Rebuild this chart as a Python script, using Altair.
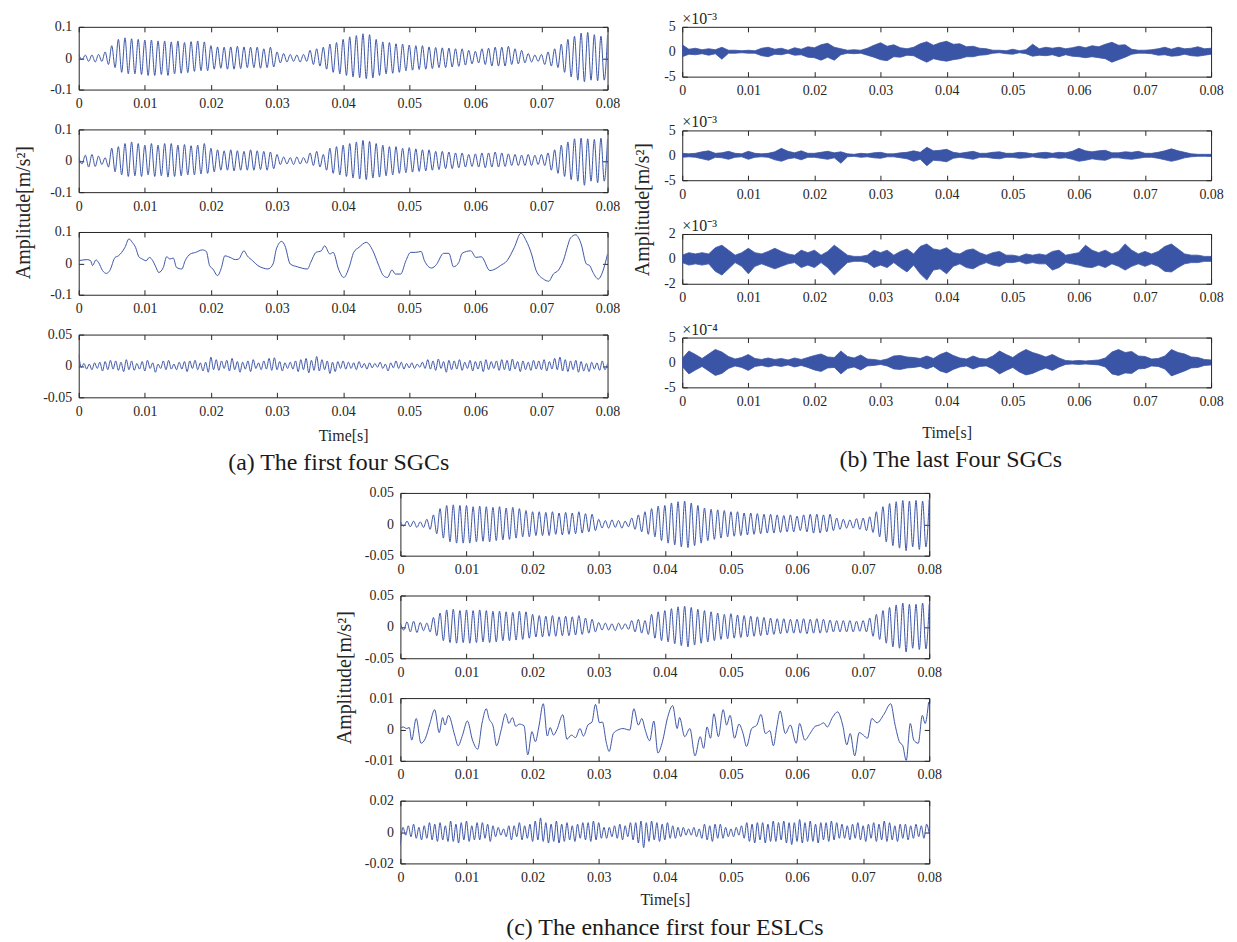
import altair as alt
import numpy as np
import pandas as pd

# ------------------------------------------------------------------ data
TIME_TICKS = [0, 0.01, 0.02, 0.03, 0.04, 0.05, 0.06, 0.07, 0.08]

# (a) first four SGCs  -- alternating crest / trough values, one cycle per ms
a1_ext = [
    0.012, -0.005, 0.010, -0.010, 0.010, -0.012, 0.012, -0.010, 0.020, -0.020,
    0.040, -0.030, 0.060, -0.045, 0.065, -0.050, 0.062, -0.050, 0.060, -0.052,
    0.058, -0.055, 0.058, -0.055, 0.055, -0.052, 0.055, -0.055, 0.052, -0.050,
    0.055, -0.048, 0.050, -0.046, 0.053, -0.042, 0.055, -0.040, 0.052, -0.040,
    0.040, -0.035, 0.036, -0.032, 0.035, -0.035, 0.036, -0.035, 0.038, -0.033,
    0.036, -0.030, 0.035, -0.030, 0.035, -0.032, 0.030, -0.030, 0.035, -0.028,
    0.020, -0.015, 0.015, -0.012, 0.012, -0.010, 0.010, -0.012, 0.012, -0.010,
    0.025, -0.020, 0.030, -0.025, 0.035, -0.035, 0.045, -0.045, 0.050, -0.050,
    0.060, -0.055, 0.068, -0.060, 0.072, -0.062, 0.078, -0.065, 0.075, -0.063,
    0.060, -0.055, 0.052, -0.050, 0.050, -0.048, 0.046, -0.045, 0.045, -0.040,
    0.042, -0.038, 0.040, -0.036, 0.040, -0.035, 0.036, -0.033, 0.034, -0.030,
    0.033, -0.030, 0.032, -0.028, 0.030, -0.026, 0.030, -0.022, 0.025, -0.018,
    0.022, -0.015, 0.030, -0.020, 0.032, -0.025, 0.035, -0.025, 0.035, -0.025,
    0.038, -0.020, 0.030, -0.018, 0.025, -0.015, 0.015, -0.012, 0.010, -0.010,
    0.012, -0.020, 0.020, -0.025, 0.030, -0.030, 0.045, -0.045, 0.060, -0.060,
    0.070, -0.070, 0.080, -0.075, 0.082, -0.070, 0.075, -0.072, 0.070, -0.070,
    0.075,
]
a2_ext = [
    0.010, -0.010, 0.018, -0.020, 0.020, -0.018, 0.015, -0.012, 0.010, -0.020,
    0.040, -0.035, 0.045, -0.045, 0.055, -0.050, 0.060, -0.048, 0.055, -0.050,
    0.050, -0.045, 0.055, -0.050, 0.050, -0.048, 0.055, -0.052, 0.055, -0.050,
    0.050, -0.048, 0.052, -0.045, 0.048, -0.045, 0.050, -0.042, 0.055, -0.040,
    0.040, -0.035, 0.035, -0.030, 0.032, -0.030, 0.035, -0.032, 0.032, -0.030,
    0.030, -0.030, 0.035, -0.030, 0.032, -0.028, 0.030, -0.030, 0.028, -0.025,
    0.020, -0.012, 0.012, -0.010, 0.010, -0.012, 0.012, -0.010, 0.010, -0.008,
    0.025, -0.015, 0.030, -0.020, 0.020, -0.030, 0.040, -0.040, 0.045, -0.045,
    0.050, -0.050, 0.055, -0.055, 0.060, -0.058, 0.065, -0.060, 0.062, -0.055,
    0.055, -0.052, 0.050, -0.048, 0.045, -0.045, 0.045, -0.040, 0.040, -0.038,
    0.042, -0.036, 0.038, -0.034, 0.035, -0.032, 0.035, -0.030, 0.030, -0.028,
    0.030, -0.025, 0.028, -0.025, 0.025, -0.022, 0.025, -0.020, 0.020, -0.018,
    0.022, -0.020, 0.025, -0.022, 0.025, -0.020, 0.028, -0.020, 0.025, -0.018,
    0.022, -0.015, 0.020, -0.015, 0.018, -0.015, 0.020, -0.015, 0.018, -0.012,
    0.020, -0.015, 0.025, -0.030, 0.035, -0.040, 0.050, -0.050, 0.060, -0.060,
    0.070, -0.065, 0.072, -0.078, 0.070, -0.065, 0.068, -0.070, 0.072, -0.065,
    0.070,
]
# (time in ms, value)
a3_pts = [
    (0, 0.0085), (1.3, 0.012), (1.8, 0.0085), (2.1, -0.007), (2.6, 0.011), (3.0, 0.003),
    (3.6, -0.023), (4.2, -0.032), (4.7, -0.023), (5.5, 0.019), (6.0, 0.024), (6.5, 0.035),
    (7.0, 0.051), (7.6, 0.078), (8.1, 0.067), (8.6, 0.051), (9.1, 0.021), (9.6, 0.014),
    (10.2, 0.0085), (10.7, 0.019), (11.2, 0.0085), (11.7, -0.013), (12.1, -0.029), (12.8, -0.013),
    (13.3, 0.021), (13.8, 0.014), (14.3, 0.017), (14.8, -0.013), (15.6, -0.018), (16.1, 0.0085),
    (16.9, 0.030), (17.7, 0.035), (18.7, 0.043), (19.3, 0.038), (19.8, -0.007), (20.3, -0.018),
    (21.0, -0.039), (21.6, -0.013), (22.1, 0.024), (22.9, 0.019), (23.7, 0.012), (24.2, 0.014),
    (25.0, 0.040), (25.5, 0.024), (26.3, 0.0085), (27.1, -0.007), (27.9, -0.015), (28.6, -0.018),
    (29.4, -0.002), (29.9, 0.046), (30.7, 0.070), (31.2, 0.056), (32.0, -0.002), (33.1, -0.011),
    (34.6, -0.018), (35.1, 0.003), (35.9, 0.035), (36.7, 0.040), (37.2, 0.056), (38.0, 0.030),
    (38.5, 0.035), (39.3, -0.018), (40.1, -0.045), (40.9, -0.013), (41.6, 0.035), (42.4, 0.051),
    (43.5, 0.067), (44.5, 0.040), (45.3, -0.002), (46.1, -0.039), (46.7, -0.045), (47.4, -0.021),
    (47.9, -0.034), (48.7, -0.034), (49.5, 0.0085), (50.2, 0.035), (51.0, 0.035), (51.8, 0.038),
    (52.3, 0.0085), (53.4, -0.015), (54.1, -0.004), (55.2, 0.032), (56.0, 0.032), (56.7, -0.011),
    (57.5, 0.003), (58.0, 0.032), (59.3, 0.040), (60.1, 0.019), (60.9, 0.021), (62.2, -0.023),
    (63.0, -0.018), (63.8, -0.007), (64.8, 0.0085), (65.9, 0.051), (66.9, 0.096), (67.7, 0.072),
    (68.5, 0.030), (69.2, -0.023), (70.3, -0.050), (71.1, -0.057), (71.8, -0.034), (72.6, -0.021),
    (73.4, 0.014), (73.9, 0.051), (74.4, 0.081), (75.2, 0.091), (76.0, 0.062), (76.8, -0.002),
    (77.3, -0.007), (77.8, -0.029), (78.6, -0.050), (79.4, -0.018), (80.0, 0.030),
]
a4_ext = [
    0.018, -0.002, 0.004, -0.005, 0.003, -0.006, 0.005, -0.004, 0.006, -0.008,
    0.007, -0.006, 0.009, -0.005, 0.008, -0.007, 0.006, -0.009, 0.010, -0.006,
    0.008, -0.007, 0.004, -0.005, 0.007, -0.008, 0.009, -0.004, 0.005, -0.010,
    0.003, -0.004, 0.008, -0.006, 0.009, -0.005, 0.003, -0.006, 0.006, -0.005,
    0.007, -0.009, 0.008, -0.004, 0.009, -0.006, 0.005, -0.008, 0.006, -0.010,
    0.014, -0.006, 0.010, -0.007, 0.008, -0.004, 0.009, -0.008, 0.012, -0.006,
    0.007, -0.010, 0.006, -0.005, 0.008, -0.009, 0.010, -0.004, 0.005, -0.006,
    0.008, -0.005, 0.012, -0.007, 0.013, -0.006, 0.007, -0.008, 0.005, -0.004,
    0.006, -0.005, 0.008, -0.009, 0.010, -0.006, 0.012, -0.011, 0.009, -0.007,
    0.015, -0.008, 0.010, -0.006, 0.008, -0.012, 0.006, -0.009, 0.007, -0.004,
    0.008, -0.005, 0.006, -0.004, 0.005, -0.006, 0.007, -0.003, 0.004, -0.005,
    0.005, -0.003, 0.004, -0.002, 0.006, -0.004, 0.003, -0.008, 0.005, -0.003,
    0.008, -0.004, 0.006, -0.005, 0.004, -0.003, 0.005, -0.004, 0.003, -0.002,
    0.006, -0.004, 0.010, -0.005, 0.008, -0.007, 0.011, -0.004, 0.007, -0.010,
    0.009, -0.006, 0.008, -0.005, 0.010, -0.007, 0.006, -0.004, 0.009, -0.008,
    0.007, -0.005, 0.008, -0.009, 0.010, -0.006, 0.007, -0.004, 0.008, -0.007,
    0.010, -0.006, 0.009, -0.008, 0.011, -0.005, 0.007, -0.009, 0.008, -0.006,
    0.006, -0.007, 0.009, -0.005, 0.008, -0.006, 0.010, -0.008, 0.007, -0.005,
    0.012, -0.006, 0.014, -0.008, 0.010, -0.009, 0.008, -0.006, 0.009, -0.010,
    0.007, -0.008, 0.004, -0.009, 0.006, -0.005, 0.005, -0.007, 0.008, -0.006,
    0.004,
]

# (b) last four SGCs -- upper / lower edge of the dense trace, one value per ms
b1_hi = [1.4, 0.5, 0.7, 0.4, 0.6, 0.4, 0.9, 0.3, 0.3, 0.2,
         0.3, 0.2, 0.7, 0.9, 0.5, 0.7, 0.3, 0.8, 0.5, 1.0,
         0.8, 1.4, 1.7, 0.9, 0.6, 0.3, 0.4, 0.3, 0.7, 1.3,
         1.8, 1.1, 1.4, 0.8, 0.6, 0.9, 1.6, 2.0, 1.3, 1.8,
         2.1, 1.5, 1.6, 1.0, 1.1, 0.7, 0.6, 0.3, 0.3, 0.2,
         0.5, 0.2, 0.4, 1.5, 0.6, 0.9, 0.7, 0.9, 0.6, 0.8,
         1.1, 0.8, 1.2, 1.0, 1.5, 1.9, 1.3, 1.4, 0.5, 0.3,
         0.3, 0.4, 0.6, 0.9, 0.5, 0.9, 0.6, 0.7, 1.0, 0.6,
         0.7]
b1_lo = [-1.0, -0.5, -0.6, -0.4, -0.7, -0.4, -1.5, -0.3, -0.3, -0.2,
         -0.3, -0.3, -0.8, -1.0, -0.5, -0.6, -0.3, -0.7, -0.6, -1.1,
         -1.2, -1.7, -1.1, -1.7, -0.6, -0.3, -0.4, -0.3, -0.7, -1.1,
         -1.6, -1.8, -1.0, -1.1, -0.7, -0.8, -1.5, -2.1, -1.4, -1.7,
         -1.9, -1.6, -1.4, -1.0, -1.0, -0.7, -0.6, -0.3, -0.2, -0.4,
         -0.5, -0.2, -0.4, -0.9, -0.7, -0.8, -0.6, -1.0, -0.6, -0.9,
         -1.0, -1.2, -1.0, -1.2, -1.4, -2.1, -1.6, -1.1, -0.5, -0.3,
         -0.3, -0.4, -0.7, -0.6, -0.9, -0.8, -0.5, -0.8, -0.9, -0.7,
         -0.5]
b2_hi = [0.4, 0.3, 0.4, 0.7, 0.9, 0.4, 0.5, 0.8, 0.4, 0.3,
         0.8, 0.4, 0.3, 0.4, 0.7, 1.4, 0.8, 0.5, 0.9, 0.4,
         0.4, 0.6, 0.8, 0.5, 0.7, 0.3, 0.2, 0.4, 0.3, 0.5,
         0.6, 0.3, 0.3, 0.5, 0.6, 0.9, 0.6, 1.6, 0.9, 1.0,
         1.2, 0.6, 0.4, 0.6, 0.8, 0.4, 0.4, 0.6, 0.7, 0.4,
         0.4, 0.6, 0.5, 0.3, 0.5, 0.6, 0.4, 0.6, 0.5, 0.8,
         1.4, 0.9, 0.7, 0.9, 1.0, 0.5, 0.5, 0.7, 0.6, 0.8,
         0.4, 0.4, 0.6, 0.9, 1.3, 0.9, 0.6, 0.3, 0.2, 0.2,
         0.2]
b2_lo = [-0.4, -0.3, -0.4, -0.7, -1.0, -0.4, -0.5, -0.8, -0.4, -0.3,
         -0.8, -0.4, -0.3, -0.4, -0.9, -1.2, -0.7, -0.5, -0.9, -0.4,
         -0.4, -0.6, -0.8, -0.5, -1.6, -0.3, -0.2, -0.4, -0.3, -0.5,
         -0.6, -0.3, -0.3, -0.5, -0.7, -1.2, -0.8, -2.1, -1.0, -1.1,
         -1.3, -0.6, -0.4, -0.6, -0.8, -0.4, -0.4, -0.6, -0.7, -0.4,
         -0.4, -0.6, -0.5, -0.3, -0.5, -0.6, -0.4, -0.6, -0.5, -0.8,
         -1.2, -1.0, -0.7, -0.9, -1.0, -0.5, -0.5, -0.7, -0.8, -0.6,
         -0.4, -0.4, -0.6, -0.9, -1.2, -0.9, -0.5, -0.3, -0.2, -0.2,
         -0.2]
b3_hi = [0.3, 0.5, 0.4, 0.5, 0.4, 0.9, 1.1, 0.7, 0.3, 0.5,
         0.85, 0.5, 0.4, 0.6, 0.85, 0.6, 0.4, 0.3, 0.7, 0.5,
         0.7, 0.3, 0.6, 1.1, 0.7, 0.3, 0.2, 0.2, 0.3, 0.7,
         0.5, 0.7, 0.3, 0.6, 0.8, 0.4, 1.0, 1.2, 0.8, 0.7,
         0.9, 0.5, 0.4, 0.7, 0.8, 0.5, 0.3, 0.5, 0.6, 0.3,
         0.3, 0.2, 0.4, 0.3, 0.4, 0.3, 0.6, 0.7, 0.3, 0.4,
         0.5, 1.1, 0.7, 0.5, 0.7, 0.4, 0.6, 1.2, 0.7, 0.4,
         0.6, 0.4, 0.6, 1.0, 1.2, 0.8, 0.4, 0.3, 0.3, 0.2,
         0.2]
b3_lo = [-0.3, -0.5, -0.4, -0.5, -0.4, -1.0, -1.3, -0.8, -0.3, -0.6,
         -1.2, -0.6, -0.4, -0.6, -0.8, -0.6, -0.4, -0.3, -0.7, -0.5,
         -0.7, -0.3, -0.7, -1.3, -0.8, -0.3, -0.2, -0.2, -0.3, -0.7,
         -0.5, -0.7, -0.3, -0.7, -1.05, -0.5, -1.2, -1.7, -0.9, -0.8,
         -1.2, -0.6, -0.4, -0.7, -0.8, -0.5, -0.3, -0.5, -0.6, -0.3,
         -0.3, -0.2, -0.4, -0.3, -0.4, -0.4, -0.9, -0.7, -0.3, -0.4,
         -0.5, -0.65, -0.7, -0.5, -0.7, -0.4, -0.6, -0.9, -0.6, -0.4,
         -0.6, -0.4, -0.6, -1.0, -1.05, -0.7, -0.4, -0.3, -0.3, -0.2,
         -0.2]
b4_hi = [0.8, 2.3, 1.6, 0.8, 1.7, 2.6, 2.1, 1.2, 0.7, 1.0,
         1.6, 0.8, 0.6, 0.9, 0.6, 0.8, 0.5, 0.9, 0.6, 1.0,
         1.4, 1.7, 1.1, 1.0, 2.3, 1.2, 0.9, 1.5, 0.7, 0.6,
         0.4, 0.7, 1.3, 1.4, 1.1, 1.0, 0.8, 1.3, 0.8, 1.6,
         2.1, 1.4, 0.9, 0.7, 1.3, 0.8, 0.7, 1.3, 2.3, 1.6,
         1.0, 1.9, 2.6, 2.0, 1.6, 1.1, 1.6, 0.9, 0.4, 0.3,
         0.4, 0.3, 0.4, 0.5, 0.9, 2.1, 2.6, 2.0, 2.2, 1.3,
         1.2, 0.7, 0.8, 1.3, 2.6, 2.0, 1.7, 1.1, 1.0, 0.6,
         0.5]
b4_lo = [-0.8, -2.3, -1.5, -0.8, -1.7, -2.6, -2.2, -1.2, -0.7, -1.0,
         -1.6, -0.8, -0.6, -0.9, -0.6, -0.8, -0.5, -0.9, -0.6, -1.0,
         -1.5, -1.8, -1.1, -1.0, -2.3, -1.2, -0.9, -1.5, -0.7, -0.6,
         -0.4, -0.7, -1.3, -1.4, -1.1, -1.0, -0.8, -1.3, -0.8, -1.7,
         -2.1, -1.4, -0.9, -0.7, -1.3, -0.8, -0.7, -1.3, -2.3, -1.6,
         -1.0, -1.9, -2.5, -2.2, -1.6, -1.1, -1.6, -0.9, -0.4, -0.3,
         -0.4, -0.3, -0.4, -0.5, -0.9, -2.3, -2.6, -2.1, -2.2, -1.3,
         -1.2, -0.7, -0.8, -1.3, -2.7, -2.2, -1.7, -1.1, -1.0, -0.6,
         -0.5]

# (c) enhanced first four ESLCs
c1_ext = [
    0.004, -0.003, 0.005, -0.004, 0.005, -0.005, 0.004, -0.005, 0.008, -0.008,
    0.015, -0.015, 0.025, -0.022, 0.030, -0.028, 0.031, -0.030, 0.030, -0.030,
    0.030, -0.030, 0.028, -0.028, 0.029, -0.027, 0.028, -0.028, 0.027, -0.026,
    0.028, -0.025, 0.026, -0.024, 0.027, -0.022, 0.025, -0.020, 0.022, -0.020,
    0.020, -0.018, 0.020, -0.018, 0.019, -0.018, 0.020, -0.016, 0.018, -0.017,
    0.019, -0.016, 0.018, -0.015, 0.020, -0.014, 0.017, -0.012, 0.016, -0.010,
    0.008, -0.006, 0.006, -0.006, 0.007, -0.005, 0.006, -0.006, 0.005, -0.004,
    0.010, -0.008, 0.015, -0.012, 0.020, -0.016, 0.025, -0.020, 0.029, -0.026,
    0.030, -0.030, 0.034, -0.033, 0.036, -0.036, 0.037, -0.037, 0.034, -0.034,
    0.030, -0.030, 0.026, -0.026, 0.024, -0.024, 0.023, -0.022, 0.022, -0.020,
    0.020, -0.019, 0.020, -0.018, 0.018, -0.017, 0.018, -0.016, 0.017, -0.015,
    0.016, -0.014, 0.016, -0.014, 0.015, -0.013, 0.014, -0.012, 0.015, -0.012,
    0.013, -0.010, 0.015, -0.012, 0.016, -0.014, 0.016, -0.014, 0.015, -0.012,
    0.016, -0.010, 0.010, -0.008, 0.008, -0.006, 0.007, -0.006, 0.009, -0.008,
    0.010, -0.010, 0.012, -0.013, 0.020, -0.020, 0.028, -0.028, 0.033, -0.034,
    0.036, -0.038, 0.038, -0.042, 0.037, -0.036, 0.038, -0.040, 0.037, -0.036,
    0.040,
]
c2_ext = [
    0.006, -0.005, 0.008, -0.008, 0.009, -0.009, 0.007, -0.006, 0.006, -0.008,
    0.015, -0.014, 0.022, -0.022, 0.027, -0.025, 0.028, -0.026, 0.026, -0.025,
    0.027, -0.026, 0.026, -0.025, 0.027, -0.024, 0.026, -0.025, 0.025, -0.024,
    0.025, -0.022, 0.024, -0.022, 0.023, -0.021, 0.025, -0.020, 0.024, -0.018,
    0.020, -0.016, 0.018, -0.016, 0.017, -0.015, 0.018, -0.015, 0.016, -0.014,
    0.017, -0.014, 0.016, -0.013, 0.018, -0.012, 0.014, -0.010, 0.012, -0.008,
    0.007, -0.005, 0.006, -0.005, 0.005, -0.006, 0.006, -0.004, 0.005, -0.004,
    0.010, -0.008, 0.012, -0.010, 0.010, -0.012, 0.020, -0.018, 0.024, -0.022,
    0.026, -0.024, 0.029, -0.027, 0.032, -0.030, 0.033, -0.032, 0.031, -0.029,
    0.028, -0.026, 0.026, -0.024, 0.024, -0.022, 0.022, -0.020, 0.020, -0.019,
    0.021, -0.018, 0.019, -0.017, 0.018, -0.016, 0.017, -0.015, 0.016, -0.014,
    0.015, -0.013, 0.014, -0.012, 0.013, -0.011, 0.013, -0.010, 0.012, -0.010,
    0.012, -0.010, 0.013, -0.011, 0.012, -0.010, 0.013, -0.010, 0.012, -0.009,
    0.011, -0.008, 0.010, -0.008, 0.010, -0.008, 0.010, -0.008, 0.009, -0.007,
    0.010, -0.008, 0.014, -0.015, 0.020, -0.020, 0.026, -0.026, 0.031, -0.032,
    0.035, -0.034, 0.038, -0.040, 0.036, -0.034, 0.036, -0.036, 0.038, -0.035,
    0.036,
]
c3_pts = [
    (0.0, 0.0005), (0.42, 0.0008), (0.94, 0.0003), (1.35, 0.0006), (1.71, -0.0034), (2.39, 0.0035),
    (3.12, -0.0044), (3.79, -0.0028), (4.47, 0.0019), (5.19, 0.0063), (5.87, -0.0010), (6.39, 0.0038),
    (6.75, 0.0014), (7.27, 0.0045), (8.21, -0.0018), (8.73, -0.0052), (9.40, -0.0018), (10.13, 0.0027),
    (10.91, -0.0034), (11.69, -0.0063), (12.36, 0.0021), (12.99, 0.0066), (13.40, 0.0035), (14.03, 0.0010),
    (14.55, -0.0052), (15.22, -0.0004), (15.90, 0.0050), (16.42, 0.0019), (16.94, 0.0038), (17.45, 0.0010),
    (17.97, 0.0017), (18.70, 0.0012), (19.27, -0.0081), (19.90, -0.0007), (20.42, -0.0039), (20.94, 0.0008),
    (21.61, 0.0082), (22.23, -0.0021), (22.65, 0.0006), (23.17, -0.0018), (23.69, 0.0000), (24.57, 0.0047),
    (25.19, -0.0031), (25.87, -0.0018), (26.49, -0.0026), (27.17, 0.0003), (27.69, -0.0021), (28.36, 0.0014),
    (28.99, 0.0024), (29.51, 0.0080), (30.13, 0.0021), (30.55, 0.0024), (31.17, -0.0044), (31.58, -0.0070),
    (32.21, -0.0013), (32.88, -0.0002), (33.66, 0.0003), (34.70, -0.0002), (35.32, 0.0066), (36.00, 0.0014),
    (36.52, 0.0035), (37.04, -0.0002), (37.71, -0.0036), (38.34, 0.0027), (38.96, -0.0075), (39.64, -0.0039),
    (40.42, 0.0038), (41.19, 0.0076), (41.87, 0.0003), (42.23, 0.0038), (43.01, -0.0023), (43.79, 0.0003),
    (44.57, -0.0084), (45.35, -0.0023), (45.87, -0.0060), (46.39, 0.0008), (46.91, -0.0028), (47.43, 0.0050),
    (48.10, -0.0023), (48.83, 0.0063), (49.35, 0.0014), (49.87, 0.0045), (50.55, -0.0028), (51.22, 0.0017),
    (51.84, -0.0013), (52.36, -0.0054), (53.14, 0.0003), (53.92, 0.0014), (54.55, 0.0048), (55.22, -0.0013),
    (55.90, -0.0004), (56.42, -0.0052), (56.94, 0.0008), (57.45, 0.0059), (58.23, -0.0013), (58.99, 0.0014),
    (59.88, -0.0044), (60.39, 0.0019), (61.19, -0.0034), (61.97, -0.0013), (62.75, 0.0010), (63.38, 0.0014),
    (64.05, 0.0021), (64.57, 0.0008), (65.35, 0.0038), (66.13, 0.0056), (66.91, 0.0014), (67.53, -0.0049),
    (68.05, -0.0013), (68.73, -0.0084), (69.40, -0.0010), (70.03, -0.0018), (70.65, -0.0028), (71.32, 0.0035),
    (72.10, 0.0021), (73.14, 0.0048), (74.18, 0.0082), (74.81, 0.0017), (75.48, -0.0039), (76.00, -0.0052),
    (76.52, -0.0099), (77.14, 0.0019), (77.66, -0.0034), (78.34, -0.0044), (78.96, 0.0045), (79.38, 0.0019),
    (79.90, 0.0087),
]
c4_ext = [
    -0.008, 0.003, -0.002, 0.004, -0.003, 0.005, -0.004, 0.003, -0.005, 0.004,
    -0.004, 0.006, -0.005, 0.005, -0.006, 0.006, -0.005, 0.004, -0.006, 0.007,
    -0.006, 0.005, -0.007, 0.006, -0.005, 0.007, -0.006, 0.004, -0.005, 0.006,
    -0.005, 0.006, -0.004, 0.005, -0.006, 0.004, -0.003, 0.003, -0.002, 0.002,
    -0.003, 0.004, -0.005, 0.004, -0.003, 0.006, -0.005, 0.004, -0.004, 0.005,
    -0.006, 0.007, -0.005, 0.009, -0.006, 0.006, -0.007, 0.005, -0.006, 0.007,
    -0.007, 0.005, -0.006, 0.006, -0.005, 0.004, -0.006, 0.005, -0.004, 0.006,
    -0.005, 0.006, -0.006, 0.007, -0.005, 0.006, -0.004, 0.003, -0.004, 0.003,
    -0.003, 0.004, -0.004, 0.005, -0.005, 0.004, -0.003, 0.006, -0.005, 0.006,
    -0.007, 0.007, -0.010, 0.006, -0.006, 0.007, -0.005, 0.006, -0.006, 0.005,
    -0.005, 0.006, -0.004, 0.004, -0.004, 0.003, -0.003, 0.003, -0.002, 0.002,
    -0.002, 0.003, -0.003, 0.002, -0.004, 0.005, -0.005, 0.004, -0.006, 0.005,
    -0.004, 0.005, -0.004, 0.003, -0.003, 0.002, -0.003, 0.003, -0.002, 0.004,
    -0.004, 0.006, -0.006, 0.005, -0.007, 0.006, -0.005, 0.006, -0.007, 0.005,
    -0.006, 0.007, -0.006, 0.006, -0.005, 0.007, -0.007, 0.006, -0.008, 0.006,
    -0.006, 0.008, -0.007, 0.006, -0.006, 0.007, -0.006, 0.005, -0.007, 0.006,
    -0.005, 0.006, -0.006, 0.007, -0.005, 0.006, -0.004, 0.005, -0.004, 0.004,
    -0.005, 0.005, -0.004, 0.006, -0.005, 0.004, -0.006, 0.005, -0.004, 0.006,
    -0.006, 0.005, -0.005, 0.007, -0.006, 0.006, -0.005, 0.004, -0.006, 0.005,
    -0.004, 0.005, -0.005, 0.004, -0.004, 0.005, -0.003, 0.004, -0.004, 0.005,
    -0.001,
]

# ------------------------------------------------------------------ style
FONT = "Liberation Serif"
BLUE = "#3b55a6"
INK = "#262626"
W = 531
TS = 5


def ext_df(vals):
    return pd.DataFrame({"t": np.linspace(0, 0.08, len(vals)), "v": vals})


def pair_df(pairs):
    return pd.DataFrame({"t": [p[0] / 1000.0 for p in pairs], "v": [p[1] for p in pairs]})


def band_df(hi, lo):
    return pd.DataFrame({"t": np.linspace(0, 0.08, len(hi)), "hi": hi, "lo": lo})


def panel(df, ydom, yticks, h, kind="line", xtitle_y=None, ytitle=None, sup=None):
    xs = alt.Scale(domain=[0, 0.08], nice=False, zero=False)
    ys = alt.Scale(domain=ydom, nice=False, zero=False)
    common = dict(domain=False, grid=False, tickSize=TS, offset=-TS, tickColor=INK,
                  tickWidth=1, labelColor=INK, labelFont=FONT, labelFontSize=14,
                  labelOverlap=False, labelExpr="'' + datum.value")
    xax = dict(common, values=TIME_TICKS, labelPadding=7, labelFlush=False)
    if xtitle_y is not None:
        xax.update(title="Time[s]", titleY=xtitle_y, titleFont=FONT, titleFontSize=16,
                   titleFontWeight="normal", titleColor=INK)
    else:
        xax["title"] = None
    yax = dict(common, values=yticks, labelPadding=7)
    if ytitle is not None:
        yax.update(title="Amplitude[m/s²]", titleX=ytitle[0], titleY=ytitle[1],
                   titleFont=FONT, titleFontSize=20, titleFontWeight="normal",
                   titleColor=INK, titleAlign="center")
    else:
        yax["title"] = None
    x = alt.X("t:Q", scale=xs, axis=alt.Axis(**xax))
    if kind == "line":
        main = alt.Chart(df).mark_line(color=BLUE, strokeWidth=1, interpolate="monotone",
                                       clip=True).encode(
            x=x, y=alt.Y("v:Q", scale=ys, axis=alt.Axis(**yax)))
        yf = "v"
    else:
        main = alt.Chart(df).mark_area(color=BLUE, opacity=1, interpolate="linear",
                                       stroke=BLUE, strokeWidth=0.8, clip=True).encode(
            x=x, y=alt.Y("hi:Q", scale=ys, axis=alt.Axis(**yax)), y2="lo:Q")
        yf = "hi"
    frame_ticks = dict(domain=False, grid=False, tickSize=TS, offset=-TS, tickColor=INK,
                       tickWidth=1, labels=False, title=None)
    frame = alt.Chart(df).mark_line(opacity=0).encode(
        x=alt.X("t:Q", scale=xs, axis=alt.Axis(orient="top", values=TIME_TICKS, **frame_ticks)),
        y=alt.Y(f"{yf}:Q", scale=ys, axis=alt.Axis(orient="right", values=yticks, **frame_ticks)))
    ch = alt.layer(main, frame).resolve_axis(x="independent", y="independent").properties(
        width=W, height=h)
    if sup:
        ch = ch.properties(title=alt.TitleParams(sup, anchor="start", frame="group", font=FONT,
                                                 fontSize=16, fontWeight="normal", color=INK,
                                                 offset=-7))
    return ch


def caption(text, offset, dx):
    return alt.TitleParams(text, orient="bottom", anchor="middle", font=FONT, fontSize=24,
                           fontWeight="normal", color="#1a1a1a", offset=offset, dx=dx)


colA = alt.vconcat(
    panel(ext_df(a1_ext), [-0.1, 0.1], [-0.1, 0, 0.1], 63),
    panel(ext_df(a2_ext), [-0.1, 0.1], [-0.1, 0, 0.1], 63),
    panel(pair_df(a3_pts), [-0.1, 0.1], [-0.1, 0, 0.1], 63, ytitle=(-50, -20)),
    panel(ext_df(a4_ext), [-0.05, 0.05], [-0.05, 0, 0.05], 63, xtitle_y=35),
    spacing=40, bounds="flush", title=caption("(a) The first four SGCs", 7, 22))

colB = alt.vconcat(
    panel(band_df(b1_hi, b1_lo), [-5, 5], [-5, 0, 5], 50, kind="area", sup="×10⁻³"),
    panel(band_df(b2_hi, b2_lo), [-5, 5], [-5, 0, 5], 50, kind="area", sup="×10⁻³",
          ytitle=(-35, 79)),
    panel(band_df(b3_hi, b3_lo), [-2, 2], [-2, 0, 2], 50, kind="area", sup="×10⁻³"),
    panel(band_df(b4_hi, b4_lo), [-5, 5], [-5, 0, 5], 50, kind="area", sup="×10⁻⁴",
          xtitle_y=42),
    spacing=54, bounds="flush", title=caption("(b) The last Four SGCs", 7, 23))

colC = alt.vconcat(
    panel(ext_df(c1_ext), [-0.05, 0.05], [-0.05, 0, 0.05], 63),
    panel(ext_df(c2_ext), [-0.05, 0.05], [-0.05, 0, 0.05], 63),
    panel(pair_df(c3_pts), [-0.01, 0.01], [-0.01, 0, 0.01], 63, ytitle=(-51, -21)),
    panel(ext_df(c4_ext), [-0.02, 0.02], [-0.02, 0, 0.02], 63, xtitle_y=33),
    spacing=40, bounds="flush", title=caption("(c) The enhance first four ESLCs", 8, 27))

spacer = alt.Chart(pd.DataFrame({"t": [0]})).mark_point(opacity=0).encode(
    x=alt.X("t:Q", axis=None)).properties(width=255, height=10,
                                          view=alt.ViewBackground(stroke="transparent"))

row1 = alt.hconcat(colA, colB, spacing=11)
row2 = alt.hconcat(spacer, colC, spacing=0)

chart = alt.vconcat(row1, row2, spacing=10).properties(
    padding={"left": 5, "top": 0, "right": 5, "bottom": 0},
    background="white",
).configure_view(stroke=INK, strokeWidth=1).configure_title(font=FONT, fontWeight="normal")

chart.save("out.html", embed_options={"renderer": "svg", "actions": False})
